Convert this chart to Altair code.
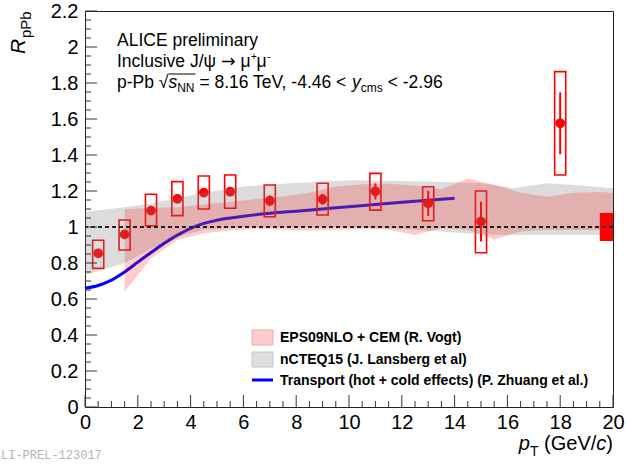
import altair as alt
import pandas as pd

# ---------------- data ----------------
pt = [0.5, 1.5, 2.5, 3.5, 4.5, 5.5, 7, 9, 11, 13, 15, 18]
rppb = [0.854, 0.959, 1.091, 1.156, 1.191, 1.196, 1.146, 1.154, 1.198, 1.131, 1.030, 1.576]
stat_err = [0.02, 0.02, 0.02, 0.02, 0.025, 0.025, 0.03, 0.03, 0.045, 0.07, 0.11, 0.172]
syst_lo = [0.770, 0.872, 1.007, 1.063, 1.100, 1.104, 1.057, 1.067, 1.094, 1.035, 0.857, 1.289]
syst_hi = [0.926, 1.039, 1.182, 1.252, 1.283, 1.289, 1.233, 1.243, 1.298, 1.224, 1.200, 1.863]
box_half = 0.21

glob_x = [19.5, 20.0]
glob_lo, glob_hi = 0.922, 1.078

eps_x = [1.5, 2.5, 3.5, 4.5, 5.5, 6.5, 7.5, 8.5, 9.5, 10.5, 11.5, 12.5, 13.5, 14.5, 15.5, 16.5, 17.5, 18.5, 19.5, 20]
eps_hi = [1.10, 1.105, 1.11, 1.125, 1.14, 1.155, 1.17, 1.19, 1.225, 1.238, 1.24, 1.23, 1.21, 1.27, 1.235, 1.19, 1.168, 1.19, 1.195, 1.19]
eps_lo = [0.64, 0.826, 0.928, 0.965, 0.98, 0.99, 0.985, 0.98, 0.983, 0.99, 0.985, 0.955, 0.995, 0.985, 0.93, 0.975, 0.983, 0.983, 0.983, 0.983]

ncteq_x = [0, 1.5, 2.5, 3.5, 4.5, 6, 8, 10, 12, 13.5, 15, 16.2, 17.5, 18.8, 20]
ncteq_hi = [1.085, 1.11, 1.13, 1.16, 1.19, 1.225, 1.245, 1.26, 1.255, 1.25, 1.245, 1.215, 1.243, 1.23, 1.215]
ncteq_lo = [0.733, 0.80, 0.88, 0.945, 0.985, 1.0, 1.0, 1.0, 0.99, 0.975, 0.96, 0.955, 0.955, 0.955, 0.955]

tr_x = [0, 0.5, 1, 1.5, 2, 2.5, 3, 3.5, 4, 4.5, 5, 5.5, 6, 7, 8, 9, 10, 11, 12, 13, 14]
tr_y = [0.66, 0.675, 0.705, 0.75, 0.805, 0.858, 0.91, 0.955, 0.993, 1.02, 1.038, 1.05, 1.06, 1.076, 1.088, 1.10, 1.113, 1.125, 1.137, 1.148, 1.16]

x_major = [0, 2, 4, 6, 8, 10, 12, 14, 16, 18, 20]
y_major = [0, 0.2, 0.4, 0.6, 0.8, 1, 1.2, 1.4, 1.6, 1.8, 2, 2.2]
x_minor = [i * 0.5 for i in range(41) if i % 4 != 0]
y_minor = [round(i * 0.05, 2) for i in range(45) if i % 4 != 0]

# ---------------- layout ----------------
W, H = 528, 396
L, T, R, B = 85, 11, 13, 57
FONT = "Liberation Sans"
RED = "#ff0000"

xs = alt.Scale(domain=[0, 20], nice=False, zero=False)
ys = alt.Scale(domain=[0, 2.2], nice=False, zero=False)
common_ax = dict(format="~g", labelFontSize=20, labelFont=FONT, labelColor="black",
                 ticks=False, tickSize=0, domain=False, grid=False, labelFlush=False,
                 labelOverlap=False, title=None)
x_ax = alt.Axis(values=x_major, labelPadding=5, **common_ax)
y_ax = alt.Axis(values=y_major, labelPadding=7, **common_ax)


def X(f):
    return alt.X(f, type="quantitative", scale=xs, axis=x_ax)


def Y(f):
    return alt.Y(f, type="quantitative", scale=ys, axis=y_ax)


DUMMY = alt.Data(values=[{"a": 1}])

AW = {' ': 278, '(': 333, ')': 333, '+': 584, ',': 278, '-': 333, '.': 278, '/': 278,
      '<': 584, '=': 584, 'A': 667, 'B': 667, 'C': 722, 'E': 667, 'G': 778, 'I': 278,
      'J': 500, 'L': 556, 'N': 722, 'P': 667, 'T': 611, 'V': 667, 'a': 556, 'b': 556,
      'c': 500, 'e': 556, 'i': 222, 'l': 222, 'm': 833, 'n': 556, 'p': 556, 'r': 333,
      's': 500, 'u': 556, 'v': 500, 'y': 500, 'ψ': 712, 'μ': 576, '→': 838, '√': 549}


def tw(s, size):
    return sum(AW.get(c, 556) for c in s) / 1000.0 * size


def txt(s, ax, ay, size, style="normal", weight="normal", color="black",
        align="left", baseline="alphabetic", angle=0, font=FONT):
    return alt.Chart(DUMMY).mark_text(
        text=s, font=font, fontSize=size, fontStyle=style, fontWeight=weight,
        color=color, align=align, baseline=baseline, angle=angle
    ).encode(x=alt.value(ax - L), y=alt.value(ay - T))


def run(pieces, x0, base):
    out = []
    x = x0
    for p in pieces:
        s, size, style, dy = p[:4]
        font = p[4] if len(p) > 4 else FONT
        lead = len(s) - len(s.lstrip(' '))
        x += tw(' ' * lead, size)
        body = s.strip(' ')
        if body:
            out.append(txt(body, x, base + dy, size, style=style, font=font))
        x += tw(s[lead:], size)
    return out, x


# ---------------- data layers ----------------
pts = pd.DataFrame({"pt": pt, "r": rppb, "s": stat_err, "lo": syst_lo, "hi": syst_hi})
pts["xl"] = pts["pt"] - box_half
pts["xr"] = pts["pt"] + box_half
pts["elo"] = pts["r"] - pts["s"]
pts["ehi"] = pts["r"] + pts["s"]

eps = pd.DataFrame({"x": eps_x, "lo": eps_lo, "hi": eps_hi})
ncteq = pd.DataFrame({"x": ncteq_x, "lo": ncteq_lo, "hi": ncteq_hi})
trans = pd.DataFrame({"x": tr_x, "y": tr_y})
glob = pd.DataFrame({"x1": [glob_x[0]], "x2": [glob_x[1]], "lo": [glob_lo], "hi": [glob_hi]})
ref = pd.DataFrame({"ref": [1.0]})

line = alt.Chart(trans).mark_line(color="#0000ff", strokeWidth=3, interpolate="monotone").encode(
    x=X("x"), y=Y("y"))
boxes = alt.Chart(pts).mark_rect(fill="transparent", stroke=RED, strokeWidth=1.6).encode(
    x=X("xl"), x2=alt.X2("xr"), y=Y("lo"), y2=alt.Y2("hi"))
ebars = alt.Chart(pts).mark_rule(color=RED, strokeWidth=2).encode(
    x=X("pt"), y=Y("elo"), y2=alt.Y2("ehi"))
markers = alt.Chart(pts).mark_circle(size=95, color=RED, opacity=1).encode(x=X("pt"), y=Y("r"))
grey_band = alt.Chart(ncteq).mark_area(color="#7f7f7f", opacity=0.27).encode(
    x=X("x"), y=Y("lo"), y2=alt.Y2("hi"))
red_band = alt.Chart(eps).mark_area(color=RED, opacity=0.2).encode(
    x=X("x"), y=Y("lo"), y2=alt.Y2("hi"))
glob_box = alt.Chart(glob).mark_rect(color=RED, opacity=1).encode(
    x=X("x1"), x2=alt.X2("x2"), y=Y("lo"), y2=alt.Y2("hi"))
dash = alt.Chart(ref).mark_rule(color="#222222", strokeDash=[4, 3], strokeWidth=2).encode(y=Y("ref"))

# inside ticks
ymaj = alt.Chart(pd.DataFrame({"v": y_major})).mark_rule(color="#333333", strokeWidth=1).encode(
    y=Y("v"), x=alt.value(0), x2=alt.value(12))
ymin = alt.Chart(pd.DataFrame({"v": y_minor})).mark_rule(color="#333333", strokeWidth=1).encode(
    y=Y("v"), x=alt.value(0), x2=alt.value(6))
xmaj = alt.Chart(pd.DataFrame({"v": x_major})).mark_rule(color="#333333", strokeWidth=1).encode(
    x=X("v"), y=alt.value(H), y2=alt.value(H - 12))
xmin = alt.Chart(pd.DataFrame({"v": x_minor})).mark_rule(color="#333333", strokeWidth=1).encode(
    x=X("v"), y=alt.value(H), y2=alt.value(H - 6))

# ---------------- texts ----------------
texts = []
F = 17.5
S = 12
texts.append(txt("ALICE preliminary", 117, 46, F))
l2, xe = run([("Inclusive J/ψ ", F, "normal", 0), ("→", F, "normal", 0, "DejaVu Sans"),
              (" μ", F, "normal", 0)], 117, 67)
texts += l2
texts.append(txt("+", xe + 0.5, 60, 10))
l2b, xe2 = run([("μ", F, "normal", 0)], xe + 6, 67)
texts += l2b
texts.append(txt("-", xe2 + 0.5, 60, 11))

l3 = [("p-Pb ", F, "normal", 0), ("√", F, "normal", 0)]
parts, xs_start = run(l3, 117, 88)
texts += parts
parts, xe_nn = run([("s", F, "italic", 0), ("NN", S, "normal", 4)], xs_start, 88)
texts += parts
overline = alt.Chart(DUMMY).mark_rule(color="black", strokeWidth=1).encode(
    x=alt.value(xs_start - L), x2=alt.value(xe_nn + 1 - L), y=alt.value(74 - T))
parts, xe3 = run([(" = 8.16 TeV, -4.46 <", F, "normal", 0)], xe_nn, 88)
texts += parts
parts, _ = run([(" y", F, "italic", 0), ("cms", S, "normal", 4), (" < -2.96", F, "normal", 0)],
               xe3 - 3, 88)
texts += parts

# x-axis title
FT = 20
xt_pieces = [("p", FT, "italic", 0), ("T", 14, "normal", 6), (" (GeV/", FT, "normal", 0),
             ("c", FT, "italic", 0), (")", FT, "normal", 0)]
total = sum(tw(s, sz) for s, sz, _, _ in xt_pieces)
parts, _ = run(xt_pieces, 613 - total, 450)
texts += parts

# y-axis title (rotated)
texts.append(txt("R", 25, 54, 21, style="italic", angle=270))
texts.append(txt("pPb", 31, 38, 15, angle=270))

# watermark
texts.append(txt("LI-PREL-123017", 1, 455, 12, color="#b4b4b4", baseline="middle",
                 font="Liberation Mono"))

# legend
leg = []
leg.append(alt.Chart(DUMMY).mark_rect(fill="#ffcccc", stroke="#f2a8a8", strokeWidth=1).encode(
    x=alt.value(252 - L), x2=alt.value(273 - L), y=alt.value(330 - T), y2=alt.value(345 - T)))
leg.append(alt.Chart(DUMMY).mark_rect(fill="#dedede", stroke="#c4c4c4", strokeWidth=1).encode(
    x=alt.value(252 - L), x2=alt.value(273 - L), y=alt.value(352 - T), y2=alt.value(367 - T)))
leg.append(alt.Chart(DUMMY).mark_rule(color="#0000ff", strokeWidth=3).encode(
    x=alt.value(252 - L), x2=alt.value(273 - L), y=alt.value(380 - T)))
leg.append(txt("EPS09NLO + CEM (R. Vogt)", 280, 338, 14, weight="bold", baseline="middle"))
leg.append(txt("nCTEQ15 (J. Lansberg et al)", 280, 359.5, 14, weight="bold", baseline="middle"))
leg.append(txt("Transport (hot + cold effects) (P. Zhuang et al.)", 280, 380.5, 14,
               weight="bold", baseline="middle"))

chart = alt.layer(
    line, boxes, ebars, markers, grey_band, red_band, glob_box, dash,
    ymaj, ymin, xmaj, xmin, overline, *texts, *leg
).properties(
    width=W, height=H,
    padding={"left": L, "top": T, "right": R, "bottom": B},
    autosize=alt.AutoSizeParams(type="none"),
).configure_view(stroke="#222222", strokeWidth=1)

chart.save("out.html", embed_options={"renderer": "svg", "actions": False})
